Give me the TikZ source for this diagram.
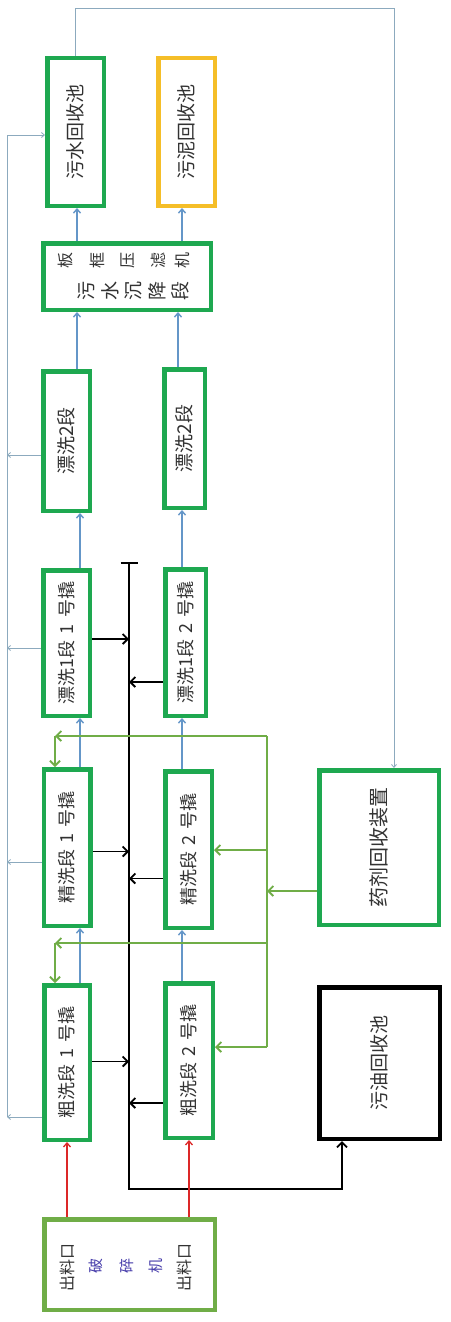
\documentclass[tikz,border=0pt]{standalone}
\usepackage{fontspec}
\usepackage{graphicx}
\setmainfont[WordSpace=1.6]{Noto Sans CJK SC}
\usetikzlibrary{arrows.meta,calc}
\definecolor{gbox}{RGB}{30,168,80}
\definecolor{lgrn}{RGB}{112,173,71}
\definecolor{ybox}{RGB}{245,190,40}
\definecolor{barr}{RGB}{100,150,200}
\definecolor{tline}{RGB}{140,170,190}
\definecolor{rarr}{RGB}{220,40,40}
\definecolor{txt}{RGB}{50,50,50}
\definecolor{crtxt}{RGB}{70,60,170}
\begin{document}
\begin{tikzpicture}[x=1pt,y=-1pt,
  box/.style={draw=gbox,line width=4.5pt,fill=white,inner sep=0pt,text=txt},
  rt/.style={rotate=90,inner sep=0pt,text=txt},
  bl/.style={draw=barr,line width=1.4pt,-{Straight Barb[length=4pt,width=7pt]}},
  thn/.style={draw=tline,line width=0.8pt},
  thnar/.style={thn,-{Straight Barb[length=3pt,width=5pt]}},
  blk/.style={draw=black,line width=1.8pt},
  blkar/.style={blk,-{Straight Barb[length=5pt,width=10pt]}},
  grn/.style={draw=lgrn,line width=1.8pt},
  grnar/.style={grn,-{Straight Barb[length=5pt,width=10pt]}},
  red/.style={draw=rarr,line width=1.3pt,-{Straight Barb[length=4pt,width=7pt]}}]
\fill[white] (0,0) rectangle (450,1322);
\useasboundingbox (0,0) rectangle (450,1322);

% boxes
\node[box,minimum width=56.5pt,minimum height=147.5pt] (sw) at (75.5,132) {\rotatebox{90}{\fontsize{19}{19}\selectfont 污水回收池}};
\node[box,draw=ybox,minimum width=56.5pt,minimum height=147.5pt] (sl) at (186.5,132) {\rotatebox{90}{\fontsize{19}{19}\selectfont 污泥回收池}};
\node[box,minimum width=167.5pt,minimum height=66.5pt] (bk) at (127,276.5) {};
\node[box,minimum width=46.5pt,minimum height=139.5pt] (p2a) at (66.5,441) {\rotatebox{90}{\fontsize{19}{19}\selectfont 漂洗2段}};
\node[box,minimum width=40.5pt,minimum height=138.5pt] (p2b) at (184.5,438.5) {\rotatebox{90}{\fontsize{19}{19}\selectfont 漂洗2段}};
\node[box,minimum width=46.5pt,minimum height=145.5pt] (p1a) at (66.5,643) {\rotatebox{90}{\fontsize{18}{18}\selectfont 漂洗1段 1 号撬}};
\node[box,minimum width=40.5pt,minimum height=146.5pt] (p1b) at (185.5,642.5) {\rotatebox{90}{\fontsize{18}{18}\selectfont 漂洗1段 2 号撬}};
\node[box,minimum width=46.5pt,minimum height=156.5pt] (j1a) at (67,847.5) {\rotatebox{90}{\fontsize{18}{18}\selectfont 精洗段 1 号撬}};
\node[box,minimum width=46.5pt,minimum height=156.5pt] (j1b) at (188.5,849.5) {\rotatebox{90}{\fontsize{18}{18}\selectfont 精洗段 2 号撬}};
\node[box,minimum width=45.5pt,minimum height=154.5pt] (c1a) at (67,1062.5) {\rotatebox{90}{\fontsize{18}{18}\selectfont 粗洗段 1 号撬}};
\node[box,minimum width=47.5pt,minimum height=154.5pt] (c1b) at (189,1060.5) {\rotatebox{90}{\fontsize{18}{18}\selectfont 粗洗段 2 号撬}};
\node[box,minimum width=119.5pt,minimum height=154.5pt] (yj) at (379,847.5) {\rotatebox{90}{\fontsize{20}{20}\selectfont 药剂回收装置}};
\node[box,draw=black,minimum width=120.5pt,minimum height=151.5pt] (wy) at (379.5,1063) {\rotatebox{90}{\fontsize{19}{19}\selectfont 污油回收池}};
\node[box,draw=lgrn,minimum width=170.5pt,minimum height=90.5pt] (ps) at (129.5,1264.5) {};

% texts of the filter-press box
\foreach \c/\x [count=\i] in {板/65,框/97,压/128,滤/158,机/182}
  \node[rt,font=\fontsize{16}{16}\selectfont] (bkA\i) at (\x,260) {\c};
\foreach \c/\x [count=\i] in {污/86,水/110,沉/133,降/157,段/180}
  \node[rt,font=\fontsize{19}{19}\selectfont] (bkB\i) at (\x,291) {\c};

% texts of the crusher box
\node[rt,font=\fontsize{16}{16}\selectfont] (psL) at (67,1267) {出料口};
\node[rt,font=\fontsize{16}{16}\selectfont] (psR) at (184,1267) {出料口};
\foreach \c/\x [count=\i] in {破/96,碎/127,机/156}
  \node[rt,text=crtxt,font=\fontsize{15}{15}\selectfont] (psM\i) at (\x,1266) {\c};

% helper coordinates
\coordinate (xA) at (80,0);
\coordinate (xA2) at (77,0);
\coordinate (xB) at (182,0);
\coordinate (xB2) at (178,0);
\coordinate (lt) at (7,135);
\coordinate (lb) at (7,1117);
\coordinate (tr) at (394,8);
\coordinate (bt) at (129,562);
\coordinate (bb) at (129,1189);
\coordinate (wyin) at (342,0);
\coordinate (gT) at (267,736);
\coordinate (gM) at (267,943);
\coordinate (gB) at (267,1047);
\coordinate (cL) at (55,0);

% blue main flow
\draw[bl] (c1a.north -| xA) -- (j1a.south -| xA);
\draw[bl] (j1a.north -| xA) -- (p1a.south -| xA);
\draw[bl] (p1a.north -| xA) -- (p2a.south -| xA);
\draw[bl] (p2a.north -| xA2) -- (bk.south -| xA2);
\draw[bl] (bk.north -| xA2) -- (sw.south -| xA2);
\draw[bl] (c1b.north -| xB) -- (j1b.south -| xB);
\draw[bl] (j1b.north -| xB) -- (p1b.south -| xB);
\draw[bl] (p1b.north -| xB) -- (p2b.south -| xB);
\draw[bl] (p2b.north -| xB2) -- (bk.south -| xB2);
\draw[bl] (bk.north -| xB) -- (sl.south -| xB);

% thin waste-water return line
\coordinate (w1) at ($(p2a.west)+(0,14)$);
\coordinate (w2) at ($(p1a.west)+(0,5)$);
\coordinate (w3) at ($(j1a.west)+(0,14.5)$);
\coordinate (w4) at ($(c1a.west)+(0,54.5)$);
\draw[thnar] (w1) -- (w1 -| lt);
\draw[thnar] (w2) -- (w2 -| lt);
\draw[thnar] (w3) -- (w3 -| lt);
\draw[thnar] (w4) -- (w4 -| lt);
\draw[thnar] (lb) -- (lt) -- (lt -| sw.west);
\draw[thnar] (sw.north) |- (tr) -- (yj.north -| tr);

% black oil bus
\draw[blk,{Bar[width=17pt]}-{Straight Barb[length=5pt,width=10pt]}] (bt) -- (bb) -| (wy.south -| wyin);
\coordinate (k1) at ($(p1a.east)+(0,-4)$);
\coordinate (k2) at ($(p1b.west)+(0,39.5)$);
\coordinate (k3) at ($(j1a.east)+(0,4)$);
\coordinate (k4) at ($(j1b.west)+(0,29)$);
\coordinate (k5) at ($(c1a.east)+(0,-1)$);
\coordinate (k6) at ($(c1b.west)+(0,42.5)$);
\draw[blkar] (k1) -- (k1 -| bt);
\draw[blkar] (k2) -- (k2 -| bt);
\draw[blkar] (k3) -- (k3 -| bt);
\draw[blkar] (k4) -- (k4 -| bt);
\draw[blkar] (k5) -- (k5 -| bt);
\draw[blkar] (k6) -- (k6 -| bt);

% green chemical recycle
\draw[grn] (gT) -- (gB);
\draw[grnar] (gT) -- (gT -| cL);
\draw[grnar] (gT -| cL) -- (j1a.north -| cL);
\draw[grnar] (gM) -- (gM -| cL);
\draw[grnar] (gM -| cL) -- (c1a.north -| cL);
\coordinate (g3) at ($(yj.west)+(0,43.5)$);
\draw[grnar] (g3) -- (g3 -| gT);
\coordinate (g4) at ($(j1b.east)+(0,0.5)$);
\draw[grnar] (g4 -| gT) -- (g4);
\draw[grnar] (gB) -- (gB -| c1b.east);

% red feed
\draw[red] (ps.north -| c1a.south) -- (c1a.south);
\draw[red] (ps.north -| c1b.south) -- (c1b.south);
\end{tikzpicture}
\end{document}
